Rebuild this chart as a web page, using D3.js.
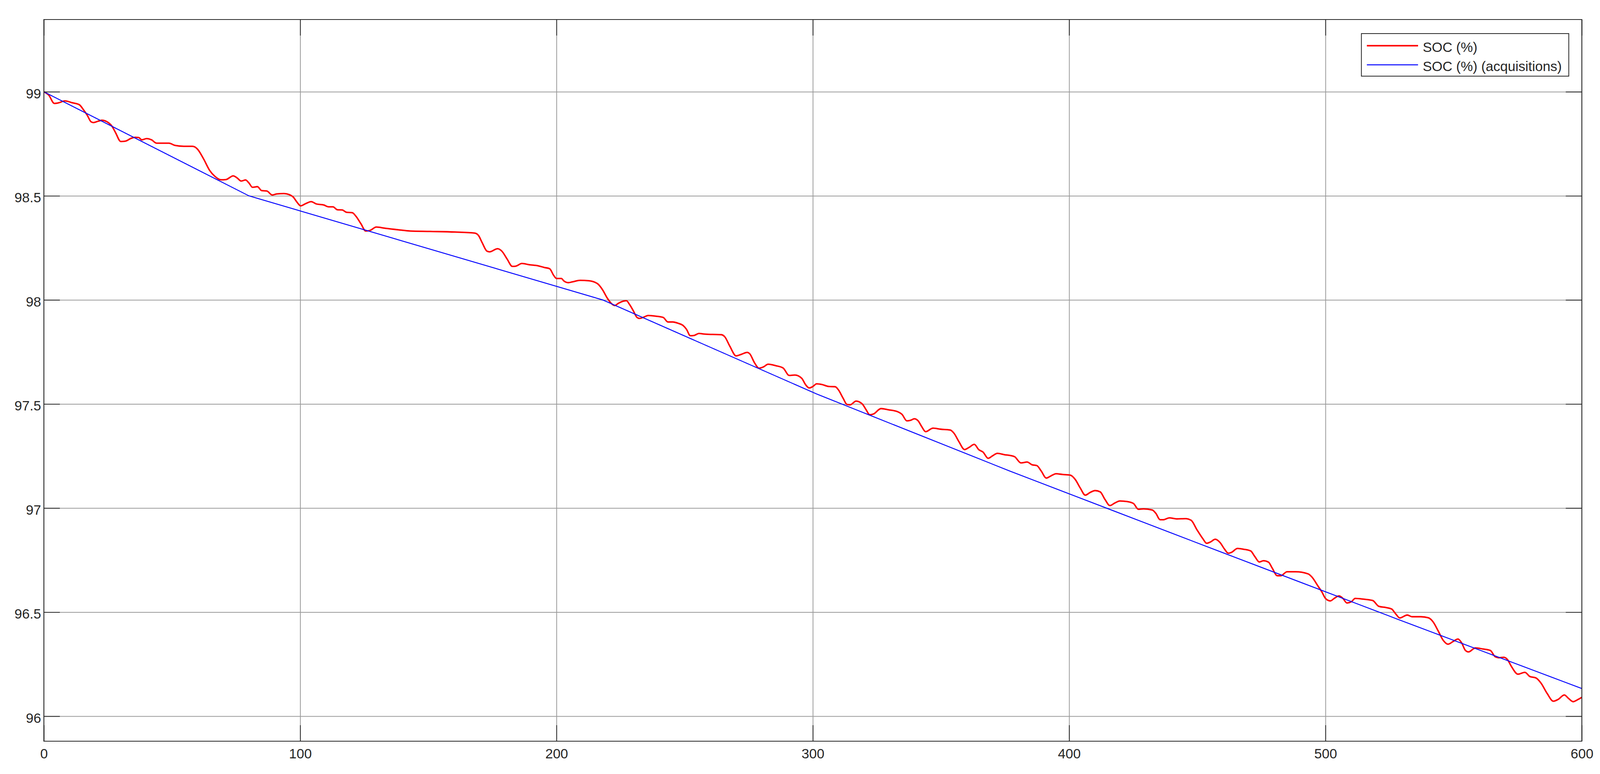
<!DOCTYPE html>
<html>
<head>
<meta charset="utf-8">
<title>SOC (%)</title>
<script src="https://cdn.jsdelivr.net/npm/d3@7"></script>
<style>
	html, body { margin: 0; padding: 0; background: #fff; overflow: hidden; }
	#chart-area { width: 100vw; height: 100vh; }
	#chart-area svg { display: block; }
	text { font-family: "Liberation Sans", Arial, sans-serif; }
</style>
</head>
<body>
<div id="chart-area"></div>
<script>
//data
var socTime = [0, 1.9, 4.1, 5.8, 8.2, 11.1, 13.8, 15.5, 16.9, 18.4, 19.3, 21.3, 22.7, 24.6, 26.6, 28.0, 30.0, 31.9, 33.8, 35.7,
	37.0, 38.2, 40.1, 42.0, 44.0, 45.9, 48.8, 51.2, 54.6, 58.0, 59.9, 62.3, 64.7, 66.7, 69.1, 71.0, 73.9, 75.4,
	77.0, 78.7, 80.0, 81.4, 83.3, 85.0, 87.0, 89.1, 90.8, 93.7, 95.7, 97.3, 98.8, 100.2, 101.9, 104.3, 106.3, 109.2,
	111.1, 112.8, 114.5, 116.4, 118.1, 120.3, 121.7, 123.7, 125.6, 127.3, 129.7, 133.3, 138.2, 143.0, 150.7,
	160.4, 168.1, 169.6, 171.0, 172.9, 173.9, 177.0, 178.7, 180.7, 182.8, 184.1, 186.5, 189.4, 192.8, 195.2, 197.3,
	199.0, 200.0, 201.9, 202.9, 204.6, 206.3, 209.2, 212.6, 216.0, 217.9, 219.8, 221.3, 222.7, 224.2, 226.1,
	227.3, 228.5, 230.0, 231.4, 232.4, 233.8, 235.8, 238.7, 241.6, 243.5, 245.4, 247.4, 249.3, 250.7, 252.2, 253.6,
	255.6, 257.5, 260.9, 264.3, 265.7, 267.6, 270.1, 272.0, 274.4, 275.4, 277.3, 279.0, 280.7, 282.6, 285.5, 288.4,
	290.8, 293.0, 295.7, 297.1, 298.6, 300.0, 301.5,
	303.4, 306.3, 308.7, 310.1, 311.8, 313.3, 314.5, 316.9, 319.3, 320.8, 322.2, 323.7, 326.6, 329.5, 332.9, 334.8,
	336.7, 338.2, 339.6, 341.1, 342.5, 344.0, 346.9, 349.8, 353.6, 355.1, 357.0, 359.2, 360.9, 363.0, 364.7, 366.4,
	368.4, 370.0, 372.0, 374.9, 376.8,
	378.7, 381.2, 383.6, 385.5, 387.4, 389.1, 391.1, 392.8, 394.9, 397.6, 400.5, 402.4, 404.3, 406.3, 408.2, 410.1,
	412.1, 414.0, 415.9, 417.9, 419.8, 422.7, 425.1, 427.0, 429.0, 432.4, 433.8, 435.5, 436.7, 439.1, 442.0, 445.4,
	447.6, 449.8, 452.2,
	453.6, 455.1, 457.0, 458.9, 460.6, 462.1, 463.3, 465.7, 468.1, 470.8, 472.5, 474.2, 475.8, 477.8, 479.2, 481.2,
	482.6, 485.0, 488.4, 493.2, 494.7, 497.1, 498.6, 500.0, 501.9, 503.4, 505.3, 506.8, 508.4, 510.1, 511.6, 515.0,
	518.4, 520.8, 523.7, 525.8, 527.5,
	529.0, 531.9, 533.8, 537.2, 540.1, 542.0, 544.0, 545.9, 547.8, 549.8, 551.7, 553.1, 554.6, 555.8, 558.5, 561.4,
	564.3, 566.2, 567.6, 569.6, 571.0, 572.5, 575.1, 577.8, 579.7, 582.1, 584.1, 586.5, 588.9, 590.8, 593.2, 594.7,
	596.6, 598.6, 600.0];

var socValues = [99.0, 98.984, 98.944, 98.947, 98.956, 98.947, 98.938, 98.913, 98.888, 98.856, 98.852, 98.859, 98.863, 98.856, 98.834, 98.803, 98.761, 98.763, 98.775, 98.781,
	98.780, 98.769, 98.775, 98.769, 98.753, 98.753, 98.753, 98.742, 98.738, 98.738, 98.725, 98.678, 98.622, 98.594, 98.577, 98.578, 98.596, 98.586,
	98.571, 98.576, 98.562, 98.541, 98.544, 98.525, 98.523, 98.504, 98.509, 98.511, 98.506, 98.494, 98.469, 98.452, 98.461, 98.472, 98.461, 98.456,
	98.447, 98.447, 98.433, 98.432, 98.421, 98.419, 98.403, 98.366, 98.331, 98.334, 98.350, 98.344, 98.337, 98.331, 98.329,
	98.326, 98.321, 98.309, 98.275, 98.234, 98.231, 98.246, 98.234, 98.197, 98.161, 98.162, 98.175, 98.169, 98.164, 98.156, 98.150,
	98.116, 98.103, 98.103, 98.091, 98.083, 98.087, 98.094, 98.092, 98.078, 98.050, 98.009, 97.984, 97.973, 97.984, 97.994,
	97.996, 97.978, 97.947, 97.916, 97.911, 97.916, 97.925, 97.922, 97.916, 97.894, 97.894, 97.888, 97.878, 97.859, 97.828, 97.829,
	97.839, 97.836, 97.834, 97.833, 97.822, 97.778, 97.731, 97.738, 97.748, 97.741, 97.697, 97.672, 97.678, 97.691, 97.684, 97.673,
	97.637, 97.639, 97.623, 97.594, 97.577, 97.584, 97.597,
	97.594, 97.584, 97.583, 97.566, 97.528, 97.498, 97.496, 97.514, 97.500, 97.472, 97.448, 97.452, 97.478, 97.472, 97.464, 97.450,
	97.419, 97.422, 97.429, 97.419, 97.391, 97.367, 97.384, 97.379, 97.375, 97.359, 97.319, 97.281, 97.291, 97.306, 97.281, 97.269,
	97.239, 97.250, 97.263, 97.256, 97.253,
	97.247, 97.217, 97.221, 97.208, 97.204, 97.178, 97.144, 97.154, 97.165, 97.161, 97.158, 97.137, 97.097, 97.062, 97.075, 97.084,
	97.078, 97.041, 97.012, 97.025, 97.034, 97.031, 97.022, 96.994, 96.996, 96.991, 96.975, 96.944, 96.944, 96.953, 96.948, 96.949,
	96.941, 96.897, 96.852,
	96.831, 96.837, 96.850, 96.834, 96.803, 96.783, 96.787, 96.806, 96.802, 96.794, 96.766, 96.741, 96.747, 96.740, 96.712, 96.675,
	96.675, 96.694, 96.694, 96.684, 96.669, 96.625, 96.597, 96.566, 96.554, 96.566, 96.578, 96.566, 96.544, 96.550, 96.566, 96.562,
	96.556, 96.528, 96.522, 96.515, 96.490,
	96.472, 96.486, 96.478, 96.478, 96.473, 96.453, 96.409, 96.365, 96.346, 96.359, 96.371, 96.353, 96.316, 96.309, 96.328, 96.323,
	96.316, 96.286, 96.281, 96.283, 96.272, 96.240, 96.202, 96.211, 96.191, 96.184, 96.159, 96.109, 96.072, 96.081, 96.102, 96.087,
	96.070, 96.081, 96.091];

var acqTime = [0, 80, 218, 301.5, 376.8, 452.2, 527.5, 600];
var acqValues = [99.0, 98.5, 98.0, 97.548, 97.178, 96.822, 96.469, 96.133];

var xTicks = [0, 100, 200, 300, 400, 500, 600];
var yTicks = [96, 96.5, 97, 97.5, 98, 98.5, 99];

var seriesNames = ["SOC (%)", "SOC (%) (acquisitions)"];
var seriesColors = ["#ff0000", "#0000ff"];

//layout: height fixed at 1982 units, width follows the window's aspect
var area = document.getElementById("chart-area");
var viewW = area.clientWidth || 4307;
var viewH = area.clientHeight || 1982;
var svgHeight = 1982;
var svgWidth = svgHeight * viewW / viewH;
var kx = svgWidth / 4307; //horizontal stretch against the 4307 wide original

var margin = { left: 118*kx, top: 50, right: 49*kx, bottom: 84 };
var width = svgWidth - margin.left - margin.right;
var height = svgHeight - margin.top - margin.bottom;
var tickLen = 41;
var axisColor = "#262626";
var fontSize = 35;

var svg = d3.select("#chart-area")
	.append("svg")
		.attr("viewBox", "0 0 " + svgWidth + " " + svgHeight)
		.attr("width", "100%")
		.attr("height", "100%");

var canvas = svg.append("g")
	.attr("transform", "translate(" + margin.left + ", " + margin.top + ")");

//scales
var x = d3.scaleLinear()
	.domain([0, 600])
	.range([0, width]);

var y = d3.scaleLinear()
	.domain([95.88, 99.347])
	.range([height, 0]);

//grid
canvas.append("g")
	.attr("class", "grid")
	.attr("transform", "translate(0, " + height + ")")
	.call(d3.axisBottom(x).tickValues(xTicks).tickSize(-height).tickFormat(""));

canvas.append("g")
	.attr("class", "grid")
	.call(d3.axisLeft(y).tickValues(yTicks).tickSize(-width).tickFormat(""));

canvas.selectAll(".grid .domain").remove();
canvas.selectAll(".grid line")
	.attr("stroke", "#9a9a9a")
	.attr("stroke-width", 2);

//clip for the lines
canvas.append("clipPath")
	.attr("id", "plot-clip")
	.append("rect")
		.attr("width", width)
		.attr("height", height);

var line = d3.line()
	.x(function(d){ return x(d[0]); })
	.y(function(d){ return y(d[1]); });

var socData = socTime.map(function(t, i){ return [t, socValues[i]]; });
var acqData = acqTime.map(function(t, i){ return [t, acqValues[i]]; });

canvas.append("path")
	.datum(socData)
	.attr("clip-path", "url(#plot-clip)")
	.attr("fill", "none")
	.attr("stroke", seriesColors[0])
	.attr("stroke-width", 3.8)
	.attr("stroke-linejoin", "round")
	.attr("d", line.curve(d3.curveMonotoneX));

canvas.append("path")
	.datum(acqData)
	.attr("clip-path", "url(#plot-clip)")
	.attr("fill", "none")
	.attr("stroke", seriesColors[1])
	.attr("stroke-width", 2.4)
	.attr("d", line.curve(d3.curveLinear));

//axes, ticks point inwards on all four sides
var xAxisCall = d3.axisBottom(x)
	.tickValues(xTicks)
	.tickSizeInner(-tickLen)
	.tickSizeOuter(0)
	.tickPadding(19)
	.tickFormat(d3.format("d"));

var yAxisCall = d3.axisLeft(y)
	.tickValues(yTicks)
	.tickSizeInner(-tickLen)
	.tickSizeOuter(0)
	.tickPadding(7)
	.tickFormat(function(d){ return +d; });

canvas.append("g")
	.attr("class", "x axis")
	.attr("transform", "translate(0, " + height + ")")
	.call(xAxisCall);

canvas.append("g")
	.attr("class", "y axis")
	.call(yAxisCall);

canvas.append("g")
	.attr("class", "axis")
	.call(d3.axisTop(x).tickValues(xTicks).tickSizeInner(-tickLen).tickSizeOuter(0).tickFormat(""));

canvas.append("g")
	.attr("class", "axis")
	.attr("transform", "translate(" + width + ", 0)")
	.call(d3.axisRight(y).tickValues(yTicks).tickSizeInner(-tickLen).tickSizeOuter(0).tickFormat(""));

canvas.selectAll(".axis .domain").remove();
canvas.selectAll(".axis line")
	.attr("stroke", axisColor)
	.attr("stroke-width", 2);
canvas.selectAll(".axis text")
	.attr("fill", axisColor)
	.attr("font-size", fontSize + "px")
	.attr("font-family", "'Liberation Sans', Arial, sans-serif");
canvas.selectAll(".y.axis text").attr("dy", "0.47em");

//box
canvas.append("rect")
	.attr("width", width)
	.attr("height", height)
	.attr("fill", "none")
	.attr("stroke", axisColor)
	.attr("stroke-width", 2);

//legend, anchored to the top right corner of the axes
var legend = canvas.append("g");

var legendBox = legend.append("rect")
	.attr("height", 109)
	.attr("fill", "#fff")
	.attr("stroke", axisColor)
	.attr("stroke-width", 2);

var textWidth = 0;
seriesNames.forEach(function(name, i){
	var legendRow = legend.append("g")
		.attr("transform", "translate(0, " + (31 + i*49) + ")");

	legendRow.append("line")
		.attr("x1", 14)
		.attr("x2", 145)
		.attr("stroke", seriesColors[i])
		.attr("stroke-width", i == 0 ? 3.8 : 2.4);

	var label = legendRow.append("text")
		.attr("x", 157)
		.attr("y", 16)
		.attr("font-size", fontSize + "px")
		.attr("fill", axisColor)
		.text(name);

	textWidth = Math.max(textWidth, label.node().getComputedTextLength());
});

var legendWidth = 157 + textWidth + 18;
legendBox.attr("width", legendWidth);
legend.attr("transform", "translate(" + (width - 35*kx - legendWidth) + ", 36)");
</script>
</body>
</html>
